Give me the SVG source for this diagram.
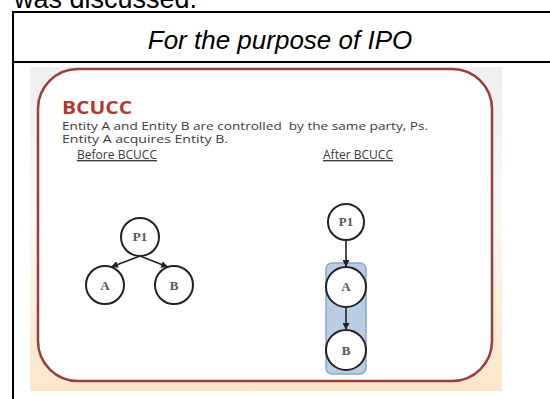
<svg xmlns="http://www.w3.org/2000/svg" width="550" height="399" viewBox="0 0 550 399">
  <defs>
    <linearGradient id="slideBg" x1="0" y1="0" x2="0" y2="1">
      <stop offset="0" stop-color="#efefef"/>
      <stop offset="0.45" stop-color="#fbf8f4"/>
      <stop offset="1" stop-color="#fde6c8"/>
    </linearGradient>
    <marker id="arrow" viewBox="0 0 10 10" refX="10" refY="5" markerWidth="7" markerHeight="7" markerUnits="userSpaceOnUse" orient="auto">
      <path d="M0,0 L10,5 L0,10 z" fill="#222"/>
    </marker>
    <style>
      .doc { font-family: "Liberation Sans", Arial, sans-serif; fill: #000; }
      .rule { stroke: #000; stroke-width: 2; fill: none; }
      .slide-text { font-family: "Open Sans", "Liberation Sans", sans-serif; fill: #3a3a3a; }
      .node circle { fill: #fff; stroke: #222; stroke-width: 2; }
      .node text { font-family: "Liberation Serif", "DejaVu Serif", serif; font-size: 13px; font-weight: bold; fill: #555; text-anchor: middle; }
      .edge { stroke: #222; stroke-width: 1.6; fill: none; marker-end: url(#arrow); }
    </style>
  </defs>

  <rect width="550" height="399" fill="#fff"/>

  <!-- running text above the table -->
  <text class="doc" x="14" y="8" font-size="27">was discussed.</text>

  <!-- table frame -->
  <line class="rule" x1="13" y1="12" x2="550" y2="12"/>
  <line class="rule" x1="13" y1="62" x2="550" y2="62"/>
  <line class="rule" x1="13" y1="11" x2="13" y2="399"/>
  <text class="doc" x="280" y="49" font-size="26" font-style="italic" text-anchor="middle">For the purpose of IPO</text>

  <!-- slide -->
  <rect x="30" y="67" width="472" height="324" fill="url(#slideBg)"/>
  <rect x="38" y="69" width="454" height="312" rx="40" ry="40" fill="#fff" stroke="#9c3d3d" stroke-width="2.5"/>

  <text x="62" y="114" font-family="'Open Sans', 'Liberation Sans', sans-serif" font-size="18.5" font-weight="bold" fill="#b23a2c" textLength="70" lengthAdjust="spacingAndGlyphs">BCUCC</text>
  <text class="slide-text" x="62" y="130" font-size="10.5" textLength="366" lengthAdjust="spacingAndGlyphs" xml:space="preserve">Entity A and Entity B are controlled  by the same party, Ps.</text>
  <text class="slide-text" x="62" y="143" font-size="10.5" textLength="166" lengthAdjust="spacingAndGlyphs">Entity A acquires Entity B.</text>

  <text class="slide-text" x="77" y="159" font-size="13.5" textLength="80" lengthAdjust="spacingAndGlyphs" text-decoration="underline">Before BCUCC</text>
  <text class="slide-text" x="323" y="159" font-size="13.5" textLength="70" lengthAdjust="spacingAndGlyphs" text-decoration="underline">After BCUCC</text>

  <!-- combined entity after the combination -->
  <rect x="326" y="263" width="40" height="111" rx="6" ry="6" fill="#b9cde5" stroke="#8aa6c8" stroke-width="1.5"/>

  <g id="connectors">
    <line class="edge" x1="140" y1="256" x2="111" y2="267"/>
    <line class="edge" x1="140" y1="256" x2="168" y2="267"/>
    <line class="edge" x1="346" y1="240" x2="346" y2="267"/>
    <line class="edge" x1="346" y1="307" x2="346" y2="330"/>
  </g>

  <g id="before-p1" class="node"><circle cx="140" cy="237" r="19"/><text x="140" y="241">P1</text></g>
  <g id="before-a" class="node"><circle cx="105" cy="285" r="19"/><text x="105" y="290">A</text></g>
  <g id="before-b" class="node"><circle cx="174" cy="285" r="19"/><text x="174" y="290">B</text></g>

  <g id="after-p1" class="node"><circle cx="346" cy="222" r="18"/><text x="346" y="226">P1</text></g>
  <g id="after-a" class="node"><circle cx="346" cy="287" r="20"/><text x="346" y="291">A</text></g>
  <g id="after-b" class="node"><circle cx="346" cy="350" r="20"/><text x="346" y="355">B</text></g>
</svg>
